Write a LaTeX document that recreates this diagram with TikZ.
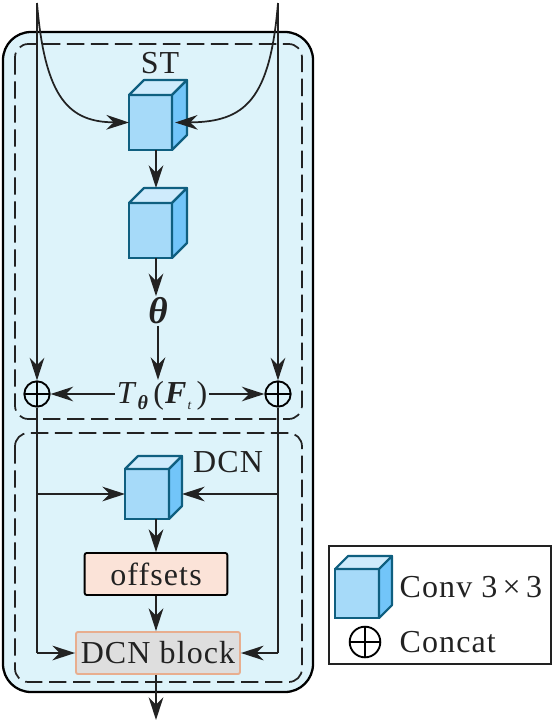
\documentclass[tikz,border=0pt]{standalone}
\usepackage{fontspec}
\setmainfont[LetterSpace=3.5]{Liberation Serif}
\usetikzlibrary{arrows.meta,positioning,calc}
\definecolor{inkline}{RGB}{34,34,34}
\definecolor{panelblue}{RGB}{221,243,250}
\definecolor{cubeedge}{RGB}{15,95,128}
\definecolor{cubefill}{RGB}{166,218,249}
\definecolor{cubetop}{RGB}{207,235,252}
\definecolor{cubeside}{RGB}{114,197,249}
\definecolor{peach}{RGB}{251,227,216}
\definecolor{peachedge}{RGB}{232,174,143}
\definecolor{blockgray}{RGB}{222,222,222}
\tikzset{
  flow/.style={-{Stealth[length=17pt,width=11pt,inset=5.5pt]}, draw=inkline, line width=1.3pt},
  plainflow/.style={draw=inkline, line width=1.3pt},
  cubefront/.style={draw=cubeedge, fill=cubefill, line width=1.6pt, inner sep=0pt, outer sep=0pt, anchor=north west},
  cubeface/.style={draw=cubeedge, line width=1.6pt, line join=round},
  zone/.style={draw=inkline, line width=1.3pt, dash pattern=on 13pt off 5pt, rounded corners=10pt},
  concat/.style={circle, draw=black, line width=1.4pt, minimum size=19pt, inner sep=0pt,
    path picture={\draw[line width=1.2pt] (path picture bounding box.north)--(path picture bounding box.south)
      (path picture bounding box.west)--(path picture bounding box.east);}},
  label/.style={text=inkline, font=\fontsize{24}{26}\selectfont, inner sep=1pt}
}
\newcommand{\cube}[6]{%
  \node[cubefront, minimum width=#4*.75pt, minimum height=#5*.75pt] (#1) at (#2,#3) {};
  \draw[cubeface, fill=cubetop] (#1.north west) -- ++(#6,-#6) -- ++(#4,0) -- ++(-#6,#6) -- cycle;
  \draw[cubeface, fill=cubeside] (#1.north east) -- ++(#6,-#6) -- ++(0,#5) -- ++(-#6,#6) -- cycle;
  \coordinate (#1-top) at ($(#1.north)+(#6,-#6)$);
  \coordinate (#1-side) at ($(#1.east)+(#6,0)$);
}
\begin{document}
\begin{tikzpicture}[x=.75pt,y=-.75pt]
\useasboundingbox (0,0) rectangle (555,725);
\draw[black, fill=panelblue, line width=1.7pt, rounded corners=21pt] (3,32) rectangle (313,692);
\draw[zone] (15,44) rectangle (302,419);
\draw[zone] (15,433) rectangle (302,682);

\coordinate (axis) at (156,0);
\coordinate (inleft) at (37,3);
\coordinate (inright) at (278,3);
\coordinate (outlet) at (156,720);

\cube{stone}{129}{95}{43}{55}{15}
\cube{sttwo}{129}{203}{43}{55}{15}
\cube{dcncube}{125}{469}{44}{50}{13}
\node[label] (stlabel) at (160,63) {ST};
\node[label] (dcnlabel) at (228,462) {DCN};

\node[label, font=\fontsize{28}{30}\selectfont\bfseries\itshape] (theta) at (158,311) {θ};
\node[label] (transform) at (162,396) {\textit{T}\raisebox{-4pt}{\fontsize{15}{15}\selectfont\bfseries\itshape θ}\,(\textbf{\textit{F}}\raisebox{-4pt}{\fontsize{10}{10}\selectfont\itshape t}\,)};
\node[concat] (joinl) at (37,394) {};
\node[concat] (joinr) at (278,394) {};

\node[draw=black, fill=peach, line width=1.4pt, rounded corners=1.5pt, minimum width=107pt, minimum height=31.5pt,
      inner sep=0pt, label] (offsets) at (156,574) {offsets};
\node[draw=peachedge, fill=blockgray, line width=1.4pt, rounded corners=1.5pt, minimum width=123pt, minimum height=31.5pt,
      inner sep=0pt, label] (block) at (158,653) {DCN block};

\draw[flow] (inleft) .. controls (45,100) and (70,122) .. (stone.west);
\draw[flow] (inright) .. controls (270,100) and (245,122) .. ([xshift=-9pt]stone-side);
\draw[flow] (axis |- stone.south) -- (axis |- sttwo-top);
\draw[flow] (axis |- sttwo.south) -- (theta.north -| axis);
\draw[flow] (theta.south) -- (theta.south |- transform.north);
\draw[flow] (inleft) -- (joinl.north);
\draw[flow] (inright) -- (joinr.north);
\draw[flow] (joinl -| transform.west) -- (joinl.east);
\draw[flow] (joinr -| transform.east) -- (joinr.west);
\draw[plainflow] (joinl.south) -- (joinl.south |- block.west);
\draw[plainflow] (joinr.south) -- (joinr.south |- block.east);
\draw[flow] (joinl.south |- dcncube.west) -- (dcncube.west);
\draw[flow] (joinr.south |- dcncube-side) -- (dcncube-side);
\draw[flow] (axis |- dcncube.south) -- (axis |- offsets.north);
\draw[flow] (axis |- offsets.south) -- (axis |- block.north);
\draw[flow] (joinl.south |- block.west) -- (block.west);
\draw[flow] (joinr.south |- block.east) -- (block.east);
\draw[flow] (axis |- block.south) -- (outlet);

\node[draw=inkline, line width=1.3pt, minimum width=167pt, minimum height=88.5pt, inner sep=0pt] (legend) at (440,605) {};
\cube{legcube}{335}{569}{44}{49}{13}
\node[label, anchor=west] (legconv) at (398,587) {Conv 3\,×\,3};
\node[concat, minimum size=23pt] (legjoin) at (365,642) {};
\node[label, anchor=west] (legconcat) at (398,642) {Concat};
\end{tikzpicture}
\end{document}
